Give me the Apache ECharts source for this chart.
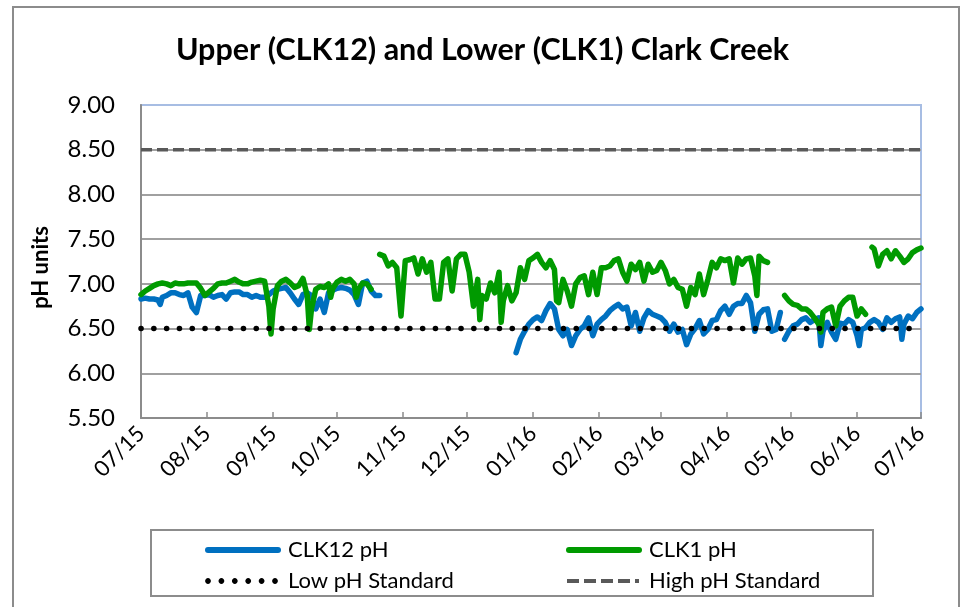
<!DOCTYPE html>
<html>
<head>
<meta charset="utf-8">
<script src="https://cdn.jsdelivr.net/npm/echarts@6/dist/echarts.min.js"></script>
<style>
  html, body { margin: 0; padding: 0; background: #fff; }
  #chart { width: 965px; height: 607px; }
</style>
</head>
<body>
<div id="chart"></div>
<script>
// Record starts 1 July 2015; each entry is [days since start, pH]. null marks a gap in the record.
const START = [2015, 6, 1];
const RECORD_DAYS = 366;

const TITLE = 'Upper (CLK12) and Lower (CLK1) Clark Creek';
const Y_NAME = 'pH units';
const Y_MIN = 5.5, Y_MAX = 9.0, Y_STEP = 0.5;

const LOW_STANDARD = 6.5;
const HIGH_STANDARD = 8.5;

const CLK12_PH = [
  [0,6.83],[2,6.84],[4,6.83],[6,6.83],[8,6.82],[9,6.77],[10,6.85],[12,6.87],[14,6.90],[16,6.90],
  [18,6.88],[20,6.87],[22,6.90],[24,6.74],[26,6.68],[28,6.87],[30,6.87],[32,6.88],[34,6.85],[36,6.87],
  [38,6.88],[40,6.83],[42,6.90],[44,6.91],[46,6.91],[48,6.88],[50,6.88],[52,6.85],[54,6.87],[56,6.85],
  [58,6.85],[60,6.88],[62,6.92],[64,6.94],[66,6.95],[68,6.96],[70,6.90],[72,6.83],[74,6.77],[76,6.88],
  [78,6.90],[80,6.87],[82,6.72],[84,6.83],[86,6.68],[88,6.90],[90,6.93],[92,6.95],[94,6.96],[96,6.95],
  [98,6.93],[100,6.88],[102,6.77],[104,7.01],[106,7.03],[108,6.92],[110,6.87],[112,6.87],[113,null],
  [176,6.23],[178,6.38],[180,6.47],[182,6.55],[184,6.60],[186,6.63],[188,6.59],[190,6.70],[192,6.78],
  [194,6.72],[196,6.49],[198,6.42],[200,6.49],[202,6.31],[204,6.42],[206,6.49],[208,6.53],[210,6.62],
  [212,6.42],[214,6.55],[216,6.60],[218,6.64],[220,6.70],[222,6.74],[224,6.77],[226,6.72],[228,6.74],
  [230,6.53],[232,6.68],[234,6.47],[236,6.62],[238,6.70],[240,6.66],[242,6.64],[244,6.62],[246,6.57],
  [248,6.47],[250,6.55],[252,6.46],[254,6.49],[256,6.32],[258,6.44],[260,6.50],[262,6.59],[264,6.44],
  [266,6.49],[268,6.59],[270,6.60],[272,6.70],[274,6.75],[276,6.66],[278,6.75],[280,6.78],[282,6.78],
  [284,6.87],[286,6.79],[288,6.47],[290,6.66],[292,6.71],[294,6.72],[296,6.47],[298,6.49],[300,6.68],
  [301,null],
  [302,6.38],[304,6.47],[306,6.53],[308,6.55],[310,6.60],[312,6.62],[314,6.57],[316,6.60],[318,6.62],
  [319,6.31],[320,6.47],[322,6.57],[324,6.46],[326,6.38],[328,6.56],[330,6.55],[332,6.60],[334,6.57],
  [336,6.42],[337,6.31],[338,6.49],[340,6.51],[342,6.57],[344,6.60],[346,6.57],[348,6.49],[350,6.62],
  [352,6.57],[354,6.61],[356,6.63],[357,6.38],[358,6.55],[360,6.64],[362,6.61],[364,6.68],[366,6.72]
];

const CLK1_PH = [
  [0,6.88],[2,6.92],[4,6.95],[6,6.98],[8,7.00],[10,7.01],[12,7.00],[14,6.98],[16,7.01],[18,7.00],
  [20,7.00],[22,7.01],[24,7.01],[26,7.01],[28,6.95],[30,6.87],[32,6.91],[34,6.95],[36,7.00],[38,7.01],
  [40,7.01],[42,7.03],[44,7.05],[46,7.02],[48,7.00],[50,7.00],[52,7.02],[54,7.03],[56,7.04],[58,7.03],
  [60,6.75],[61,6.44],[62,6.72],[64,6.98],[66,7.03],[68,7.05],[70,7.01],[72,6.96],[74,6.98],[76,7.06],
  [78,6.87],[79,6.49],[80,6.72],[82,6.94],[84,6.97],[86,6.96],[88,7.00],[89,6.85],[90,6.95],[92,7.02],
  [94,7.05],[96,7.03],[98,7.05],[100,7.00],[101,6.85],[102,6.94],[104,7.01],[106,7.00],[108,6.94],
  [110,null],
  [112,7.33],[114,7.31],[116,7.20],[118,7.24],[120,7.18],[122,6.64],[124,7.26],[126,7.27],[128,7.29],
  [130,7.11],[132,7.28],[134,7.13],[136,7.24],[138,6.83],[140,6.83],[142,7.24],[144,7.28],[146,6.92],
  [148,7.28],[150,7.33],[152,7.33],[154,7.13],[156,6.75],[158,7.05],[159,6.60],[160,6.87],[162,6.83],
  [164,7.01],[166,6.90],[168,7.13],[169,6.57],[170,6.81],[172,6.98],[174,6.81],[176,6.90],[178,7.18],
  [180,7.05],[182,7.26],[184,7.29],[186,7.33],[188,7.24],[190,7.18],[192,7.26],[194,7.16],[195,6.81],
  [196,6.79],[198,7.05],[200,6.92],[202,6.75],[204,7.00],[206,7.07],[208,7.09],[210,6.88],[212,7.13],
  [214,6.88],[216,7.18],[218,7.18],[220,7.20],[222,7.26],[224,7.28],[226,7.13],[228,7.03],[230,7.22],
  [232,7.16],[234,7.24],[236,7.03],[238,7.22],[240,7.13],[242,7.15],[244,7.24],[246,7.15],[248,7.00],
  [250,7.05],[252,6.96],[254,6.94],[256,6.75],[258,6.96],[260,6.88],[262,7.11],[264,6.88],[266,7.05],
  [268,7.24],[270,7.18],[272,7.28],[274,7.26],[276,7.28],[278,7.01],[280,7.29],[282,7.22],[284,7.28],
  [286,7.29],[288,7.09],[289,6.87],[290,7.31],[292,7.26],[294,7.24],[296,null],
  [302,6.87],[304,6.81],[306,6.77],[308,6.76],[310,6.72],[312,6.72],[314,6.68],[316,6.62],[318,6.55],
  [319,6.46],[320,6.68],[322,6.72],[324,6.74],[326,6.53],[328,6.75],[330,6.81],[332,6.85],[334,6.85],
  [336,6.64],[338,6.72],[340,6.66],[341,null],
  [343,7.41],[344,7.39],[346,7.20],[348,7.33],[350,7.37],[352,7.28],[354,7.37],[356,7.31],[358,7.24],
  [360,7.28],[362,7.35],[364,7.38],[366,7.40]
];

const SERIES_NAMES = ['CLK12 pH', 'CLK1 pH', 'Low pH Standard', 'High pH Standard'];

const FONT = 'Lato, "Open Sans", sans-serif';
const TEXT = '#000000';
const GRID_GRAY = '#a0a0a0';
const FRAME_GRAY = '#8c8c8c';
const PLOT_BLUE = '#a7bde3';
const BLUE = '#0070c0';
const GREEN = '#009a00';
const DOT_BLACK = '#000000';
const DASH_GRAY = '#595959';

function dayToTime(d) {
  return new Date(START[0], START[1], START[2] + d).getTime();
}
function toPoints(rows) {
  return rows.map(([d, v]) => [dayToTime(d), v === null ? '-' : v]);
}
function pad2(n) { return (n < 10 ? '0' : '') + n; }

// legend glyphs (76 x 6 box): a rounded bar, a row of round dots, a row of dashes
const ICON_BAR = 'path://M3,0 L73,0 A3,3 0 0,1 73,6 L3,6 A3,3 0 0,1 3,0 Z';
function dotsIcon() {
  let p = 'M0,0 L0.01,0 Z M76,6 L75.99,6 Z ';
  const r = 2.9;
  for (let i = 0; i < 6; i++) {
    const cx = 3 + i * 13.4, cy = 3;
    for (let k = 0; k < 16; k++) {
      const a = (k / 16) * Math.PI * 2;
      p += (k === 0 ? 'M' : 'L') + (cx + r * Math.cos(a)).toFixed(2) + ',' + (cy + r * Math.sin(a)).toFixed(2) + ' ';
    }
    p += 'Z ';
  }
  return 'path://' + p;
}
function dashesIcon() {
  let p = 'M0,0 L0.01,0 Z M76,6 L75.99,6 Z ';
  for (let i = 0; i < 4; i++) {
    const x = 1 + i * 17;
    p += 'M' + x + ',1 L' + (x + 12) + ',1 L' + (x + 12) + ',5 L' + x + ',5 Z ';
  }
  p += 'M69,1 L73,1 L73,5 L69,5 Z';
  return 'path://' + p;
}

const X_MIN = dayToTime(0);
const X_MAX = dayToTime(RECORD_DAYS);
const MONTH_MS = 30 * 24 * 3600 * 1000;

// one split line per y tick; the top one doubles as the plot frame
const yTickCount = Math.round((Y_MAX - Y_MIN) / Y_STEP) + 1;
const splitColors = [];
for (let i = 0; i < yTickCount; i++) splitColors.push(i === yTickCount - 1 ? PLOT_BLUE : GRID_GRAY);

const chart = echarts.init(document.getElementById('chart'), null, { renderer: 'canvas' });

const legendText = { fontFamily: FONT, fontSize: 22, color: TEXT, padding: [0, 0, 0, 2] };
const legendBase = {
  orient: 'vertical', top: 534, itemGap: 9,
  itemWidth: 76, itemHeight: 6, symbolKeepAspect: false,
  itemStyle: { borderWidth: 0 },
  textStyle: legendText
};
function legendItem(name, icon, color) {
  return { name: name, icon: icon, itemStyle: { color: color, borderWidth: 0, borderColor: 'transparent' } };
}

chart.setOption({
  animation: false,
  backgroundColor: '#ffffff',
  title: {
    text: TITLE,
    left: 'center',
    top: 30,
    padding: [5, 5, 5, 15],
    textStyle: { fontFamily: FONT, fontSize: 30.5, fontWeight: 'bold', color: TEXT }
  },
  grid: {
    left: 141, top: 105, right: 44, bottom: 189,
    show: true, borderColor: PLOT_BLUE, borderWidth: 2, backgroundColor: 'transparent'
  },
  xAxis: {
    type: 'time',
    min: X_MIN,
    max: X_MAX,
    minInterval: MONTH_MS,
    maxInterval: MONTH_MS,
    axisLine: { show: true, lineStyle: { color: FRAME_GRAY, width: 2 } },
    axisTick: { show: true, inside: true, length: 6, lineStyle: { color: FRAME_GRAY, width: 1.5 } },
    splitLine: { show: false },
    axisLabel: {
      rotate: 45,
      margin: 12,
      showMinLabel: true,
      showMaxLabel: true,
      fontFamily: FONT,
      fontSize: 22,
      color: TEXT,
      formatter: function (v) {
        const d = new Date(v);
        return pad2(d.getMonth() + 1) + '/' + String(d.getFullYear()).slice(2);
      }
    }
  },
  yAxis: {
    type: 'value',
    min: Y_MIN,
    max: Y_MAX,
    interval: Y_STEP,
    name: Y_NAME,
    nameLocation: 'middle',
    nameRotate: 90,
    nameGap: 89,
    nameTextStyle: { fontFamily: FONT, fontSize: 22, fontWeight: 'bold', color: TEXT, padding: [0, 12, 0, 0] },
    axisLine: { show: true, lineStyle: { color: FRAME_GRAY, width: 2 } },
    axisTick: { show: false },
    axisLabel: {
      margin: 26,
      fontFamily: FONT,
      fontSize: 24,
      color: TEXT,
      formatter: function (v) { return v.toFixed(2); }
    },
    splitLine: { show: true, lineStyle: { color: splitColors, width: 2 } }
  },
  legend: [
    Object.assign({}, legendBase, {
      left: 200,
      data: [
        legendItem(SERIES_NAMES[0], ICON_BAR, BLUE),
        legendItem(SERIES_NAMES[2], dotsIcon(), DOT_BLACK)
      ]
    }),
    Object.assign({}, legendBase, {
      left: 561,
      data: [
        legendItem(SERIES_NAMES[1], ICON_BAR, GREEN),
        legendItem(SERIES_NAMES[3], dashesIcon(), DASH_GRAY)
      ]
    })
  ],
  graphic: [
    {
      type: 'rect', z: 100, silent: true,
      shape: { x: 13, y: 7, width: 946, height: 700 },
      style: { fill: 'none', stroke: FRAME_GRAY, lineWidth: 2 }
    },
    {
      type: 'rect', z: 100, silent: true,
      shape: { x: 151, y: 530, width: 722, height: 66 },
      style: { fill: 'none', stroke: FRAME_GRAY, lineWidth: 2 }
    }
  ],
  series: [
    {
      name: SERIES_NAMES[0], type: 'line', symbol: 'none', connectNulls: false,
      lineStyle: { color: BLUE, width: 5.5, cap: 'round', join: 'round' },
      itemStyle: { color: BLUE },
      data: toPoints(CLK12_PH), z: 2
    },
    {
      name: SERIES_NAMES[1], type: 'line', symbol: 'none', connectNulls: false,
      lineStyle: { color: GREEN, width: 5.5, cap: 'round', join: 'round' },
      itemStyle: { color: GREEN },
      data: toPoints(CLK1_PH), z: 3
    },
    {
      name: SERIES_NAMES[2], type: 'line', symbol: 'none',
      lineStyle: { color: DOT_BLACK, width: 5.5, type: [0.1, 12.7], cap: 'round' },
      itemStyle: { color: DOT_BLACK },
      data: [[X_MIN, LOW_STANDARD], [X_MAX, LOW_STANDARD]], z: 5
    },
    {
      name: SERIES_NAMES[3], type: 'line', symbol: 'none',
      lineStyle: { color: DASH_GRAY, width: 3.5, type: [11, 5] },
      itemStyle: { color: DASH_GRAY },
      data: [[X_MIN, HIGH_STANDARD], [X_MAX, HIGH_STANDARD]], z: 4
    }
  ]
});
</script>
</body>
</html>
